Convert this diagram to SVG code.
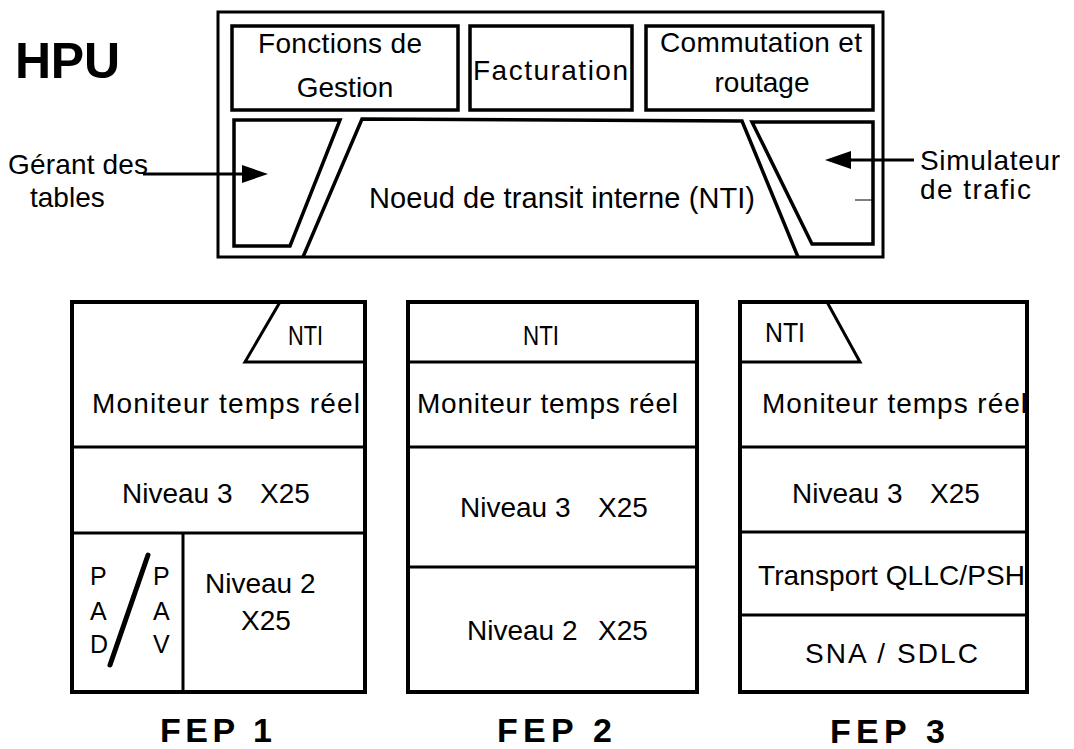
<svg xmlns="http://www.w3.org/2000/svg" width="1074" height="749" viewBox="0 0 1074 749">
<defs>
<style>
.t{font-family:"Liberation Sans",Arial,Helvetica,sans-serif;font-size:28px;fill:#000}
.m{text-anchor:middle}
.h{font-weight:bold;font-size:34px}
.big{font-weight:bold;font-size:50px}
.s25{font-size:25px}
.s29{font-size:29px}
.frame{fill:none;stroke:#000;stroke-width:3}
.box{fill:none;stroke:#000;stroke-width:3.5;stroke-linejoin:miter}
.fep{fill:none;stroke:#000;stroke-width:4}
.div{fill:none;stroke:#000;stroke-width:3}
.conn{fill:none;stroke:#000;stroke-width:3}
</style>
<marker id="ah" markerUnits="userSpaceOnUse" markerWidth="28" markerHeight="20" refX="16" refY="9" orient="auto">
<path d="M0,0 L26,9 L0,18 z" fill="#000"/>
</marker>
</defs>
<rect width="1074" height="749" fill="#fff"/>

<g id="hpu">
<text class="t big" x="15" y="78" textLength="105">HPU</text>
<rect class="frame" x="218" y="12" width="665" height="245"/>
</g>

<g id="fonctions-gestion">
<rect class="box" x="232" y="26" width="226" height="84"/>
<text class="t" x="258" y="53" textLength="164">Fonctions de</text>
<text class="t m" x="345" y="97">Gestion</text>
</g>

<g id="facturation">
<rect class="box" x="470" y="26" width="162" height="84"/>
<text class="t" x="473" y="80" textLength="155">Facturation</text>
</g>

<g id="commutation-routage">
<rect class="box" x="646" y="26" width="227" height="84"/>
<text class="t" x="660" y="52" textLength="202">Commutation et</text>
<text class="t m" x="762" y="92">routage</text>
</g>

<g id="gerant-tables">
<path class="box" d="M234,120 L340,120 L290,246 L234,246 Z"/>
</g>

<g id="nti">
<path class="box" d="M303,257 L362,119 L742,121 L798,257"/>
<text class="t s29" x="369" y="208" textLength="386">Noeud de transit interne (NTI)</text>
</g>

<g id="simulateur-trafic">
<path class="box" d="M752,122 L873,122 L873,244 L812,244 Z"/>
<line x1="855" y1="200" x2="873" y2="200" stroke="#000" stroke-width="1"/>
</g>

<g id="label-gerant">
<text class="t" x="8" y="174" textLength="140">Gérant des</text>
<text class="t" x="30" y="207">tables</text>
</g>

<g id="label-simulateur">
<text class="t" x="920" y="170" textLength="140">Simulateur</text>
<text class="t" x="920" y="199" textLength="111">de trafic</text>
</g>

<g id="connectors">
<line class="conn" x1="143" y1="174" x2="258" y2="174" marker-end="url(#ah)"/>
<line class="conn" x1="914" y1="160" x2="835" y2="160" marker-end="url(#ah)"/>
</g>

<g id="fep1">
<rect class="fep" x="72" y="302" width="293" height="390"/>
<path class="div" d="M365,362 L245,362 L280,302"/>
<text class="t" x="288" y="345" textLength="35" lengthAdjust="spacingAndGlyphs">NTI</text>
<text class="t" x="92" y="413" textLength="268">Moniteur temps réel</text>
<line class="div" x1="72" y1="447" x2="365" y2="447"/>
<text class="t" x="122" y="503">Niveau 3</text>
<text class="t" x="260" y="503">X25</text>
<line class="div" x1="72" y1="533" x2="365" y2="533"/>
<line class="div" x1="183" y1="533" x2="183" y2="692"/>
<line x1="110" y1="665" x2="148" y2="555" stroke="#000" stroke-width="5" stroke-linecap="round"/>
<text class="t s25" x="90" y="585">P</text>
<text class="t s25" x="90" y="620">A</text>
<text class="t s25" x="90" y="653">D</text>
<text class="t s25" x="153" y="585">P</text>
<text class="t s25" x="153" y="620">A</text>
<text class="t s25" x="153" y="653">V</text>
<text class="t" x="205" y="593">Niveau 2</text>
<text class="t m" x="266" y="630">X25</text>
<text class="t h" x="160" y="742" textLength="112">FEP  1</text>
</g>

<g id="fep2">
<rect class="fep" x="408" y="302" width="289" height="390"/>
<line class="div" x1="408" y1="362" x2="697" y2="362"/>
<text class="t" x="523" y="345" textLength="36" lengthAdjust="spacingAndGlyphs">NTI</text>
<text class="t" x="417" y="413" textLength="261">Moniteur temps réel</text>
<line class="div" x1="408" y1="447" x2="697" y2="447"/>
<text class="t" x="460" y="517">Niveau 3</text>
<text class="t" x="598" y="517">X25</text>
<line class="div" x1="408" y1="567" x2="697" y2="567"/>
<text class="t" x="467" y="640">Niveau 2</text>
<text class="t" x="598" y="640">X25</text>
<text class="t h" x="497" y="742" textLength="115">FEP  2</text>
</g>

<g id="fep3">
<rect class="fep" x="740" y="302" width="287" height="390"/>
<path class="div" d="M740,362 L860,362 L827,302"/>
<text class="t" x="765" y="342" textLength="40" lengthAdjust="spacingAndGlyphs">NTI</text>
<text class="t" x="762" y="413" textLength="265">Moniteur temps réel</text>
<line class="div" x1="740" y1="447" x2="1027" y2="447"/>
<text class="t" x="792" y="503">Niveau 3</text>
<text class="t" x="930" y="503">X25</text>
<line class="div" x1="740" y1="532" x2="1027" y2="532"/>
<text class="t" x="758" y="585" textLength="267">Transport QLLC/PSH</text>
<line class="div" x1="740" y1="615" x2="1027" y2="615"/>
<text class="t" x="805" y="663" textLength="173">SNA / SDLC</text>
<text class="t h" x="830" y="743" textLength="115">FEP  3</text>
</g>
</svg>
